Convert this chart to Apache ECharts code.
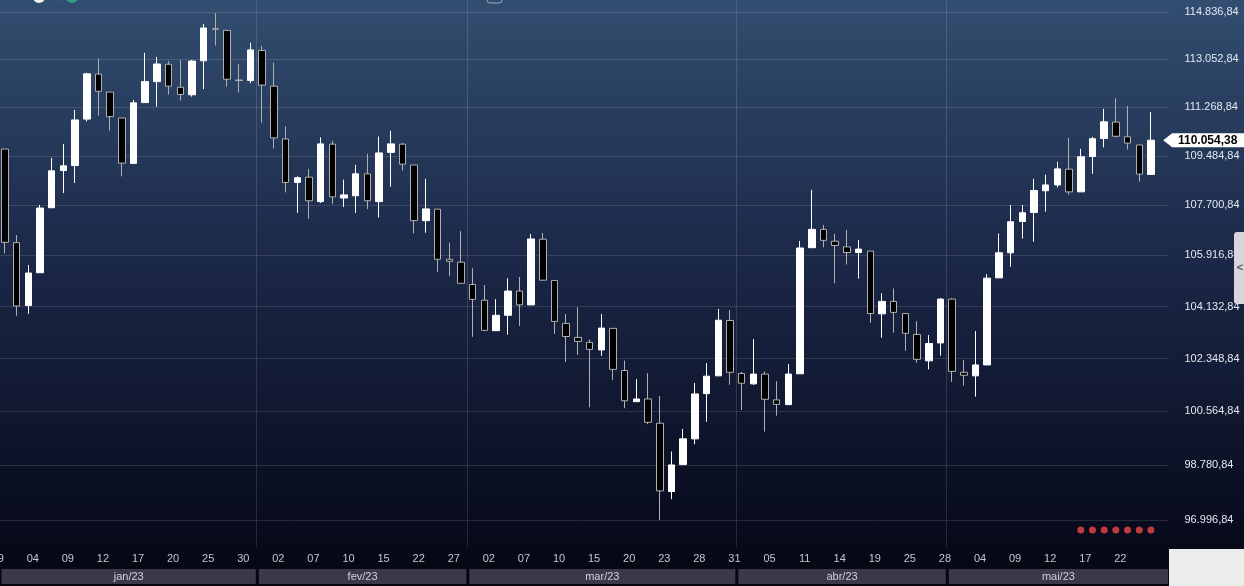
<!DOCTYPE html>
<html><head><meta charset="utf-8">
<script src="https://cdn.jsdelivr.net/npm/echarts@6/dist/echarts.min.js"></script>
<style>html,body{margin:0;padding:0;background:#070a1a;}#c{width:1244px;height:586px;}</style>
</head><body><div id="c"></div>
<script>
// ---- categories (trading days) ----
const decDays = ['29/12'];
const janDays = ['02','03','04','05','06','09','10','11','12','13','16','17','18','19','20','23','24','25','26','27','30','31'].map(d => d + '/01');
const fevDays = ['01','02','03','06','07','08','09','10','13','14','15','16','17','22','23','24','27','28'].map(d => d + '/02');
const marDays = ['01','02','03','06','07','08','09','10','13','14','15','16','17','20','21','22','23','24','27','28','29','30','31'].map(d => d + '/03');
const abrDays = ['03','04','05','06','10','11','12','13','14','17','18','19','20','24','25','26','27','28'].map(d => d + '/04');
const maiDays = ['02','03','04','05','08','09','10','11','12','15','16','17','18','19','22','23','24','25'].map(d => d + '/05');
const monthNames = ['jan/23','fev/23','mar/23','abr/23','mai/23'];
const categories = [].concat(decDays, janDays, fevDays, marDays, abrDays, maiDays, ['']);

// ---- OHLC values (index 0 = 29/12, not visible) ----
const opens = [null,
 109730,106370,104170,105310,107610,108950,109130,110830,112500,111830,110870,109210,111440,112220,112870,112010,111730,113000,114210,114150,112280,112260,
 113390,112050,110100,108520,108710,107830,109910,107960,108040,108830,107830,109610,109910,109150,107150,107560,105780,105680,
 104900,104350,103300,103830,104670,104190,106490,105040,103550,103070,102900,102640,103380,101940,100890,100980,100170,97920,98800,99650,101160,101760,103650,
 101840,101490,101820,100950,100790,101830,106190,106840,106420,106220,106020,106070,103880,104310,103890,103170,102270,102880,
 104390,101880,101760,102130,105130,106010,107120,107440,108220,108430,109000,108180,109460,110120,110720,110180,109880,108810];
const closes = [null,
 106380,104150,105300,107600,108940,109120,110800,112510,111860,110920,109220,111430,112220,112880,112050,111740,112990,114240,114190,112310,112260,113410,
 112090,110140,108520,108690,107860,109920,108000,108070,108830,107860,109590,109920,109180,107150,107570,105780,105710,104940,
 104380,103310,103830,104670,104190,106500,105050,103620,103100,102930,102660,103390,101980,100920,100980,100200,97940,98790,99650,101150,101750,103660,101880,
 101510,101820,100970,100800,101820,106180,106840,106450,106270,106020,106140,103890,104310,103930,103210,102320,102860,104390,
 101910,101780,102130,105120,106010,107110,107430,108230,108430,109010,108180,109450,110110,110730,110200,109950,108820,110054.38];
const lows = [null,
 105990,103810,103880,105300,107600,108140,108500,110740,110960,110410,108740,109210,111440,111290,111740,111510,111660,111940,113570,112030,111810,112160,
 110700,109750,108160,107430,107210,107780,107750,107640,107420,107560,107260,108370,108950,106700,106720,105340,105190,104940,
 103090,103290,103290,103160,103460,104190,105030,103190,102230,102470,100700,102440,101620,100670,100880,100140,96996.84,97670,98800,99470,100220,101760,101460,
 100610,101450,99890,100420,100780,101830,106190,106200,104940,105600,105100,103570,103060,103230,102610,102200,101980,102450,
 101560,101430,101060,102130,105130,105520,106510,106400,107470,108340,108070,108180,108830,109790,110160,109710,108550,108810];
const highs = [null,
 109730,106640,105580,107710,109410,109920,111170,112550,113090,111840,110880,111540,113300,113150,112990,113030,113030,114390,114810,114160,112880,113680,
 113560,112930,110560,108740,109010,110160,110030,108620,109160,109560,110190,110400,109950,109150,108650,107560,106370,106780,
 105470,104880,104390,105120,105160,106680,106710,105050,103870,104110,103000,103870,103380,102280,101650,101850,101080,99230,99980,101520,102190,104050,104010,
 101890,103010,101910,101580,102160,106430,108250,107000,106680,106820,106460,106070,104590,104760,103890,103630,103150,104420,
 104420,102290,103290,105260,106690,107710,107710,108650,108800,109270,110140,109740,110180,111210,111600,111320,109880,111090];

// ---- axis ticks / markers ----
const yTicks = [96996.84, 98780.84, 100564.84, 102348.84, 104132.84, 105916.84, 107700.84, 109484.84, 111268.84, 113052.84, 114836.84];
const yMinValue = 96129.8, yMaxValue = 115307.6;
const lastClose = 110054.38;
const signalDates = ['17/05','18/05','19/05','22/05','23/05','24/05','25/05'];
const signalLevel = 96675;

// ---- helpers ----
function fmtBR(v) {
  const s = v.toFixed(2).split('.');
  return s[0].replace(/\B(?=(\d{3})+(?!\d))/g, '.') + ',' + s[1];
}
const L = Math.log;
const candleData = categories.map((c, i) =>
  (i >= opens.length || opens[i] == null) ? '-' : [L(opens[i]), L(closes[i]), L(lows[i]), L(highs[i])]);

// month ranges derived from categories
const monthRanges = [];
['01','02','03','04','05'].forEach(m => {
  let s = -1, e = -1;
  categories.forEach((c, i) => { if (c.endsWith('/' + m)) { if (s < 0) s = i; e = i; } });
  if (m === '05') e = categories.length - 1;
  monthRanges.push([s, e]);
});

const FONT = '"Liberation Sans", Arial, sans-serif';
const GRIDLINE = 'rgba(255,255,255,0.13)';
const chart = echarts.init(document.getElementById('c'), null, {renderer: 'canvas'});
chart.setOption({
  animation: false,
  backgroundColor: {type: 'linear', x: 0, y: 0, x2: 0, y2: 1, colorStops: [
    {offset: 0, color: '#324e70'}, {offset: 0.45, color: '#1b2747'}, {offset: 0.9, color: '#080b1d'}, {offset: 1, color: '#05060f'}]},
  grid: {left: -12.65, right: 75.5, top: 0, bottom: 39, outerBoundsMode: 'none', containLabel: false},
  xAxis: {
    type: 'category', data: categories, boundaryGap: true,
    axisLine: {show: false}, axisTick: {show: false},
    splitLine: {show: false},
    axisLabel: {
      interval: (i) => i % 3 === 0 && i <= categories.length - 5,
      formatter: (v) => v.split('/')[0],
      color: '#c3c6cf', fontSize: 11, fontFamily: FONT, margin: 6,
      padding: [0, 0, 0, 9]
    }
  },
  yAxis: {
    type: 'value', position: 'right', min: L(yMinValue), max: L(yMaxValue),
    axisLine: {show: false},
    axisTick: {show: false, customValues: yTicks.map(L)},
    splitLine: {show: true, lineStyle: {color: GRIDLINE, width: 1}},
    axisLabel: {
      customValues: yTicks.map(L),
      formatter: (lv) => {
        const real = Math.exp(lv);
        const best = yTicks.reduce((a, b) => Math.abs(b - real) < Math.abs(a - real) ? b : a);
        return fmtBR(best);
      },
      color: '#e3e8ef', fontSize: 11, fontFamily: FONT, margin: 16, align: 'left'
    }
  },
  graphic: [
    {type: 'rect', shape: {x: 1169, y: 549, width: 80, height: 40}, style: {fill: '#ececec'}, z: 100},
    {type: 'rect', shape: {x: 1234, y: 232, width: 14, height: 72, r: [3, 0, 0, 3]}, style: {fill: '#d6d6db'}, z: 100},
    {type: 'text', style: {text: '<', x: 1240, y: 268, fill: '#555', font: 'bold 11px ' + FONT, align: 'center', verticalAlign: 'middle'}, z: 101},
    {type: 'circle', shape: {cx: 39, cy: -3, r: 6}, style: {fill: '#f2f4f6'}, z: 100},
    {type: 'circle', shape: {cx: 58, cy: -3, r: 4}, style: {fill: '#475a72'}, z: 100},
    {type: 'circle', shape: {cx: 72, cy: -3, r: 6}, style: {fill: '#2f9f86'}, z: 100},
    {type: 'rect', shape: {x: 487, y: -6, width: 15, height: 9, r: 3}, style: {fill: 'none', stroke: '#9aa8ba', lineWidth: 1}, z: 100}
  ],
  series: [
    {
      type: 'custom', clip: false, silent: true, z: 1,
      data: monthRanges,
      renderItem: (params, api) => {
        const cs = params.coordSys;
        const bw = api.size([1, 0])[0];
        const bx = api.coord([api.value(0), L(yMinValue)])[0] - bw / 2;
        const x0 = bx + 2.5;
        const x1 = api.coord([api.value(1), L(yMinValue)])[0] + bw / 2 - 0.5;
        const y0 = cs.y + cs.height + 22;
        const children = [
          {type: 'rect', shape: {x: x0, y: y0, width: x1 - x0, height: 15}, style: {fill: '#3a3948'}},
          {type: 'text', style: {text: monthNames[params.dataIndex], x: (x0 + x1) / 2, y: y0 + 7.5, align: 'center', verticalAlign: 'middle', fill: '#cfd0d8', font: '11px ' + FONT}}
        ];
        if (params.dataIndex > 0) {
          const lx = Math.round(bx) + 0.5;
          children.push({type: 'line', shape: {x1: lx, y1: cs.y, x2: lx, y2: cs.y + cs.height}, style: {stroke: GRIDLINE, lineWidth: 1}});
        }
        return {type: 'group', children};
      }
    },
    {
      type: 'candlestick', data: candleData, barWidth: 7, z: 3,
      itemStyle: {color: '#ffffff', color0: '#000000', borderColor: '#ffffff', borderColor0: '#b0b0b0', borderWidth: 1},
      markPoint: {
        symbol: 'path://M0,7L9,0L81,0L81,14L9,14Z', symbolSize: [81, 14], symbolKeepAspect: false,
        symbolOffset: [41, 0],
        itemStyle: {color: '#ffffff'},
        label: {show: true, position: 'inside', formatter: () => fmtBR(lastClose), color: '#000', fontWeight: 'bold', fontSize: 12, fontFamily: FONT, offset: [4, 0]},
        data: [{coord: [categories.length - 1, L(lastClose)]}]
      }
    },
    {
      type: 'scatter', symbolSize: 7, itemStyle: {color: '#f04646'},
      data: signalDates.map(d => [d, L(signalLevel)]), z: 5
    }
  ]
});
</script></body></html>
